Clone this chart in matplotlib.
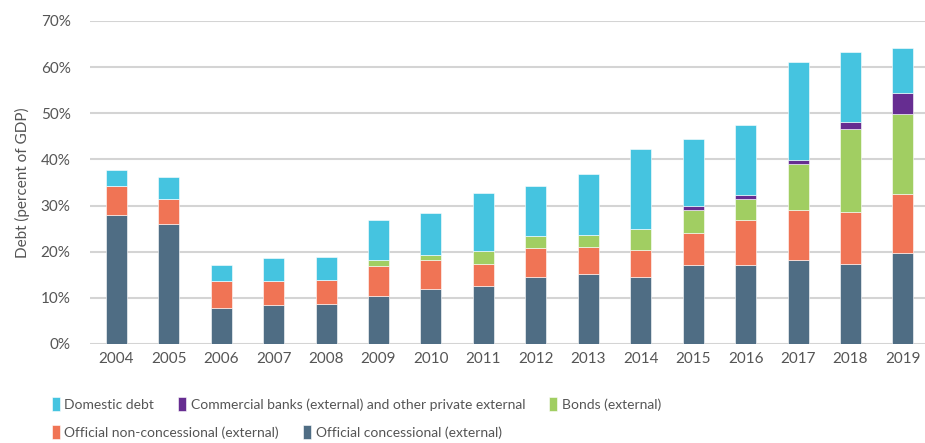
import numpy as np
import matplotlib.pyplot as plt

years = [str(y) for y in range(2004, 2020)]

concessional = [28.0, 25.9, 7.7, 8.5, 8.6, 10.5, 12.0, 12.6, 14.5, 15.2, 14.6, 17.2, 17.2, 18.3, 17.3, 19.8]
non_concessional = [6.3, 5.6, 6.0, 5.2, 5.3, 6.3, 6.1, 4.8, 6.2, 5.9, 5.7, 6.8, 9.6, 10.8, 11.4, 12.6]
bonds = [0, 0, 0, 0, 0, 1.3, 1.2, 2.8, 2.6, 2.6, 4.7, 5.0, 4.6, 9.8, 17.9, 17.5]
commercial = [0, 0, 0, 0, 0, 0, 0, 0, 0, 0, 0, 1.0, 0.9, 1.0, 1.6, 4.6]
domestic = [3.3, 4.6, 3.4, 4.9, 5.0, 8.7, 9.0, 12.5, 10.9, 13.1, 17.3, 14.5, 15.2, 21.2, 15.1, 9.6]

series = [
    ("Official concessional (external)", concessional, "#4F6D84"),
    ("Official non-concessional (external)", non_concessional, "#F07455"),
    ("Bonds (external)", bonds, "#A1CE62"),
    ("Commercial banks (external) and other private external", commercial, "#662D91"),
    ("Domestic debt", domestic, "#45C4E0"),
]

plt.rcParams['font.family'] = ['Lato', 'DejaVu Sans']

fig = plt.figure(figsize=(9.25, 4.43), dpi=100)
ax = fig.add_axes([0.0973, 0.2235, 0.9027, 0.7291])

x = np.arange(len(years))
bottom = np.zeros(len(years))
handles = {}
for name, vals, color in series:
    vals = np.array(vals)
    b = ax.bar(x, vals, 0.4, bottom=bottom, color=color, edgecolor="white", linewidth=0.4, zorder=3)
    handles[name] = b
    bottom += vals

ax.set_ylim(0, 70)
ax.set_xlim(-0.5, 15.42)
ax.set_yticks(np.arange(0, 71, 10))
ax.set_yticklabels([f"{v}%" for v in range(0, 71, 10)])
ax.set_xticks(x)
ax.set_xticklabels(years)
ax.grid(axis="y", color="#d4d4d4", linewidth=1.5, zorder=0)
ax.tick_params(axis="both", length=0, labelsize=11, colors="#555555")
ax.tick_params(axis="y", pad=14)
ax.tick_params(axis="x", pad=6)
for s in ax.spines.values():
    s.set_visible(False)
ax.set_ylabel("Debt (percent of GDP)", fontsize=11, color="#555555", labelpad=8)

# legend laid out as two flowing rows below the plot
rows = [
    (404, ["Domestic debt", "Commercial banks (external) and other private external", "Bonds (external)"]),
    (432, ["Official non-concessional (external)", "Official concessional (external)"]),
]
renderer = fig.canvas.get_renderer()
for py, names in rows:
    px = 52
    for name in names:
        leg = fig.legend([handles[name]], [name], loc="center left",
                         bbox_to_anchor=(px / 925, 1 - py / 443),
                         frameon=False, fontsize=10, handlelength=0.55, handleheight=1.1,
                         handletextpad=0.35, borderaxespad=0, borderpad=0, labelcolor="#555555")
        ext = leg.get_window_extent(renderer)
        px = ext.x1 + 24

fig.savefig("out.png", dpi=100)
